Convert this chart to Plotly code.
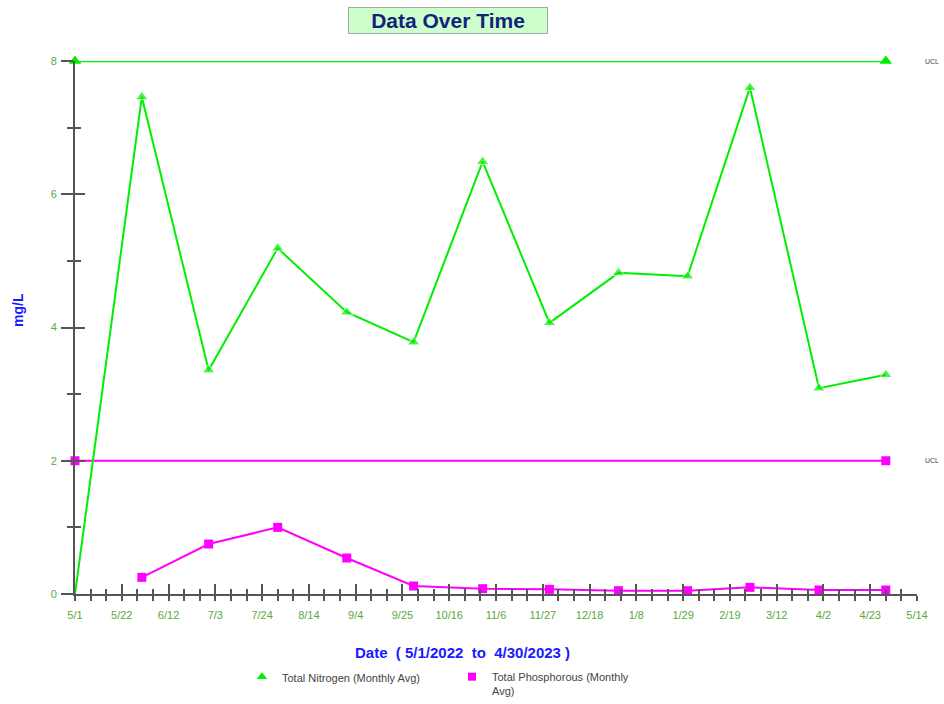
import plotly.graph_objects as go

# ---- data ----
nitrogen_dates = ["2022-05-01", "2022-05-31", "2022-06-30", "2022-07-31", "2022-08-31",
                  "2022-09-30", "2022-10-31", "2022-11-30", "2022-12-31", "2023-01-31",
                  "2023-02-28", "2023-03-31", "2023-04-30"]
nitrogen_values = [0, 7.46, 3.36, 5.19, 4.23, 3.78, 6.49, 4.07, 4.82, 4.77, 7.60, 3.09, 3.29]

phos_dates = ["2022-05-31", "2022-06-30", "2022-07-31", "2022-08-31", "2022-09-30",
              "2022-10-31", "2022-11-30", "2022-12-31", "2023-01-31", "2023-02-28",
              "2023-03-31", "2023-04-30"]
phos_values = [0.25, 0.75, 1.00, 0.54, 0.12, 0.08, 0.07, 0.05, 0.05, 0.10, 0.06, 0.06]

ucl_dates = ["2022-05-01", "2023-04-30"]
nitrogen_ucl = [8, 8]
phos_ucl = [2, 2]

x_range = ["2022-05-01", "2023-05-14"]
y_range = [0, 8]

series_names = ["Total Nitrogen (Monthly Avg)", "Total Phosphorous (Monthly<br>Avg)"]

GREEN = "#00ee00"
MAGENTA = "#ff00ff"
LABEL_GREEN = "#5aa83c"
AXIS = "#555555"
TRI = 11
SQ = 9

fig = go.Figure()

fig.add_trace(go.Scatter(x=ucl_dates, y=nitrogen_ucl, mode="lines+markers",
                         line=dict(color=GREEN, width=2.5),
                         marker=dict(symbol="triangle-up", size=TRI, color=GREEN),
                         showlegend=False, cliponaxis=False, hoverinfo="skip"))
fig.add_trace(go.Scatter(x=ucl_dates, y=phos_ucl, mode="lines+markers",
                         line=dict(color=MAGENTA, width=2),
                         marker=dict(symbol="square", size=SQ, color=MAGENTA),
                         showlegend=False, cliponaxis=False, hoverinfo="skip"))

n_sizes = [0] + [TRI] * (len(nitrogen_values) - 1)
fig.add_trace(go.Scatter(x=nitrogen_dates, y=nitrogen_values, mode="lines+markers",
                         name=series_names[0], showlegend=False,
                         line=dict(color=GREEN, width=2),
                         marker=dict(symbol="triangle-up", size=n_sizes, color=GREEN),
                         cliponaxis=False))
fig.add_trace(go.Scatter(x=phos_dates, y=phos_values, mode="lines+markers",
                         name=series_names[1], showlegend=False,
                         line=dict(color=MAGENTA, width=2),
                         marker=dict(symbol="square", size=SQ, color=MAGENTA),
                         cliponaxis=False))

# legend-only entries (marker only, as in the reference)
fig.add_trace(go.Scatter(x=[None], y=[None], mode="markers", name=series_names[0],
                         marker=dict(symbol="triangle-up", size=9, color=GREEN)))
fig.add_trace(go.Scatter(x=[None], y=[None], mode="markers", name=series_names[1],
                         marker=dict(symbol="square", size=8, color=MAGENTA)))

DAY = 86400000
tickfont = dict(family="Arial", size=11, color=LABEL_GREEN)

fig.update_layout(
    width=944, height=704,
    margin=dict(l=75, r=27, t=61, b=110, autoexpand=False),
    paper_bgcolor="white", plot_bgcolor="white",
    font=dict(family="Arial", color="#444"),
    xaxis=dict(type="date", range=x_range, tick0="2022-05-01", dtick=21 * DAY,
               tickformat="%-m/%-d", tickfont=tickfont, automargin=False,
               ticklabelstandoff=5,
               showgrid=False, zeroline=False, showline=True, linecolor=AXIS, linewidth=2,
               ticks="outside", ticklen=5, tickwidth=1.5, tickcolor=AXIS,
               minor=dict(dtick=7 * DAY, tick0="2022-05-01", ticks="outside", ticklen=5,
                          tickwidth=1.5, tickcolor=AXIS, showgrid=False),
               fixedrange=True),
    xaxis2=dict(type="date", range=x_range, overlaying="x", anchor="y", side="bottom",
                tick0="2022-05-01", dtick=21 * DAY, showticklabels=False, automargin=False,
                showgrid=False, zeroline=False, showline=False,
                ticks="inside", ticklen=10, tickwidth=1.5, tickcolor=AXIS,
                minor=dict(dtick=7 * DAY, tick0="2022-05-01", ticks="inside", ticklen=5,
                           tickwidth=1.5, tickcolor=AXIS, showgrid=False)),
    yaxis=dict(range=y_range, dtick=2, tickfont=tickfont, automargin=False,
               ticklabelstandoff=2,
               showgrid=False, zeroline=False, showline=True, linecolor=AXIS, linewidth=2,
               ticks="outside", ticklen=12, tickwidth=1.5, tickcolor=AXIS,
               minor=dict(dtick=1, ticks="outside", ticklen=6, tickwidth=1.5,
                          tickcolor=AXIS, showgrid=False)),
    yaxis2=dict(range=y_range, overlaying="y", anchor="x", side="left", dtick=2,
                showticklabels=False, showgrid=False, zeroline=False, showline=False,
                automargin=False,
                ticks="inside", ticklen=10, tickwidth=1.5, tickcolor=AXIS,
                minor=dict(dtick=1, ticks="inside", ticklen=6, tickwidth=1.5,
                           tickcolor=AXIS, showgrid=False)),
    legend=dict(orientation="h", x=(242 - 75) / 842, y=(594 - 663) / 533,
                xanchor="left", yanchor="top",
                font=dict(family="Arial", size=11, color="#444"),
                entrywidth=165, valign="top", bgcolor="rgba(0,0,0,0)"),
    showlegend=True,
)

# invisible trace to activate the secondary axes
fig.add_trace(go.Scatter(x=x_range, y=y_range, xaxis="x2", yaxis="y2", mode="markers",
                         marker=dict(opacity=0), showlegend=False, hoverinfo="skip"))

fig.add_annotation(text="<b>Data Over Time</b>", xref="paper", yref="paper",
                   x=(448 - 75) / 842, y=(594 - 20) / 533, xanchor="center", yanchor="middle",
                   showarrow=False,
                   font=dict(family="Arial", size=21, color="#14237a"),
                   bgcolor="#ccffcc", bordercolor="#a8a8a8", borderwidth=1,
                   borderpad=1, width=196)
fig.add_annotation(text="<b>mg/L</b>", xref="paper", yref="paper",
                   x=(18 - 75) / 842, y=(594 - 310) / 533, textangle=-90,
                   xanchor="center", yanchor="middle",
                   showarrow=False, font=dict(family="Arial", size=14, color="#1a1aff"))
fig.add_annotation(text="<b>Date  ( 5/1/2022  to  4/30/2023 )</b>", xref="paper", yref="paper",
                   x=(462 - 75) / 842, y=(594 - 652) / 533, xanchor="center", yanchor="middle",
                   showarrow=False,
                   font=dict(family="Arial", size=15, color="#1a1aff"))
for val in [nitrogen_ucl[0], phos_ucl[0]]:
    fig.add_annotation(text="UCL", xref="paper", yref="y", x=(932 - 75) / 842, y=val,
                       showarrow=False, xanchor="center", yanchor="middle",
                       font=dict(family="Arial", size=7, color="#444"))

fig.write_html("out.html", config={"displayModeBar": False},
               post_script="document.body.style.margin='0px';")
